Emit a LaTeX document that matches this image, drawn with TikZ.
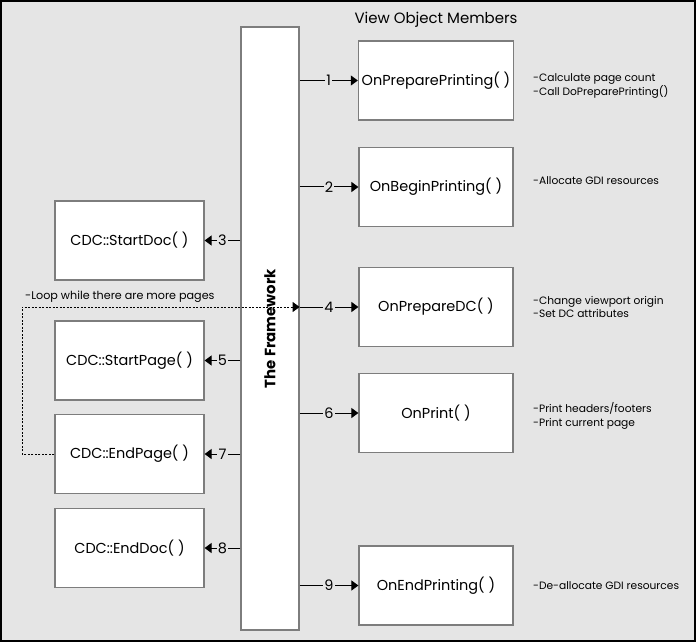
\documentclass[tikz,border=0pt]{standalone}
\usepackage{fontspec}
\setmainfont{Poppins}
\usetikzlibrary{shapes.geometric, arrows, arrows.meta}
\definecolor{panel}{RGB}{229,229,229}
\definecolor{edge}{RGB}{125,125,125}
\tikzstyle{member} = [rectangle, draw=edge, line width=1.2bp, fill=white, minimum width=154bp, minimum height=79bp, text centered, font=\fontsize{14.5}{16}\selectfont]
\tikzstyle{cdc} = [member, minimum width=149bp]
\tikzstyle{framework} = [rectangle, draw=edge, line width=1.2bp, fill=white, minimum width=58bp, minimum height=603bp]
\tikzstyle{note} = [anchor=west, align=left, inner sep=0pt, font=\fontsize{10.7}{13.5}\selectfont]
\tikzstyle{num} = [fill=panel, inner sep=1.2bp, font=\fontsize{14.5}{16}\selectfont]
\tikzstyle{arrow} = [line width=1bp, -{Triangle[length=7bp, width=10bp]}]
\tikzstyle{loopline} = [arrow, line width=0.8bp, dash pattern=on 2bp off 1.5bp]

\begin{document}
\begin{tikzpicture}[x=1bp, y=-1bp]
            \useasboundingbox (0,0) rectangle (696,642);
            \fill [panel] (0,0) rectangle (696,642);
            \draw [line width=2bp] (1,1) rectangle (695,641);
            \node [framework] at (270,328.5) (fw) {};
            \node [rotate=90, font=\bfseries\fontsize{15}{16}\selectfont] at (fw.center) (fwlabel) {The Framework};
            \node at (436,20) (title) {\fontsize{15}{16}\selectfont View Object Members};
            % view members
            \node [member] at (436,80.5) (prepprint) {OnPreparePrinting( )};
            \node [member] at (436,187) (beginprint) {OnBeginPrinting( )};
            \node [member] at (436,307) (prepdc) {OnPrepareDC( )};
            \node [member] at (436,413) (print) {OnPrint( )};
            \node [member] at (436,585.5) (endprint) {OnEndPrinting( )};
            % device context calls
            \node [cdc] at (129.5,240.5) (startdoc) {CDC::StartDoc( )};
            \node [cdc] at (129.5,360.5) (startpage) {CDC::StartPage( )};
            \node [cdc] at (129.5,454) (endpage) {CDC::EndPage( )};
            \node [cdc] at (129.5,548) (enddoc) {CDC::EndDoc( )};
            % notes
            \node [note] at (533,86) (note1) {-Calculate page count\\-Call DoPreparePrinting()};
            \node [note] at (533,181) (note2) {-Allocate GDI resources};
            \node [note] at (533,307) (note4) {-Change viewport origin\\-Set DC attributes};
            \node [note] at (533,416) (note6) {-Print headers/footers\\-Print current page};
            \node [note] at (533,586) (note9) {-De-allocate GDI resources};
            \node [note, font=\fontsize{11.2}{13}\selectfont] at (25,297) (loopnote) {-Loop while there are more pages};
            \coordinate (loopleft) at (22,454);
            \draw [arrow] (fw.east |- prepprint.west) -- node[num] {1} (prepprint.west);
            \draw [arrow] (fw.east |- beginprint.west) -- node[num] {2} (beginprint.west);
            \draw [arrow] (fw.west |- startdoc.east) -- node[num] {3} (startdoc.east);
            \draw [arrow] (fw.east |- prepdc.west) -- node[num] {4} (prepdc.west);
            \draw [arrow] (fw.west |- startpage.east) -- node[num] {5} (startpage.east);
            \draw [arrow] (fw.east |- print.west) -- node[num] {6} (print.west);
            \draw [arrow] (fw.west |- endpage.east) -- node[num] {7} (endpage.east);
            \draw [arrow] (fw.west |- enddoc.east) -- node[num] {8} (enddoc.east);
            \draw [arrow] (fw.east |- endprint.west) -- node[num] {9} (endprint.west);
            \draw [loopline] (endpage.west) -- (loopleft) |- (fw.east |- prepdc.west);
\end{tikzpicture}
\end{document}
